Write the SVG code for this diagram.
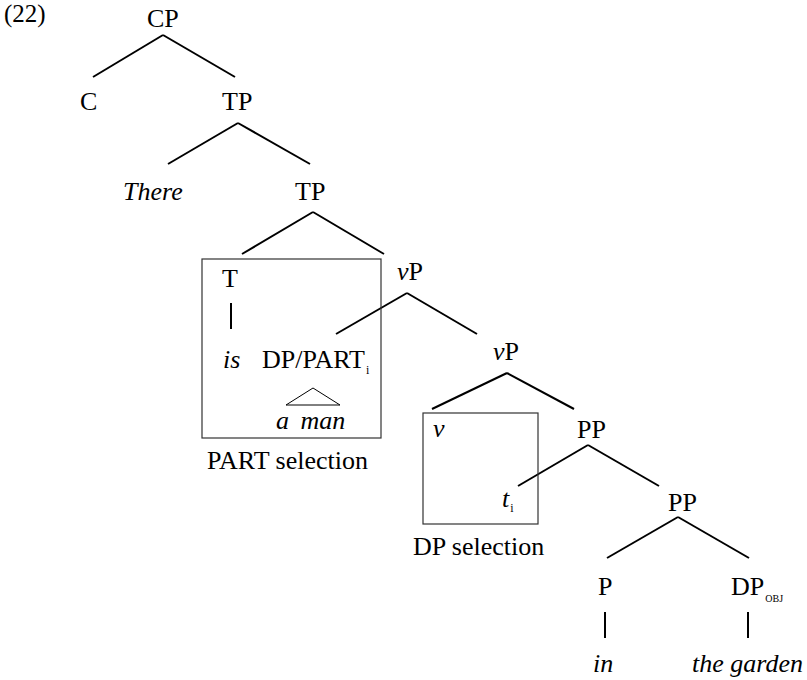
<svg xmlns="http://www.w3.org/2000/svg" width="807" height="680" viewBox="0 0 807 680">
<style>
.t{font-family:'Liberation Serif','Times New Roman',serif;font-size:26px;fill:#000}
.it{font-style:italic}
.sub{font-size:12px;font-style:normal}
.sc{font-size:10px}
.e line{stroke:#000;stroke-width:2;stroke-linecap:butt}
.box{fill:none;stroke:#333;stroke-width:1.2}
</style>
<rect width="807" height="680" fill="#fff"/>
<text class="t" x="4" y="22" style="font-size:25px">(22)</text>
<g class="e" id="connectors">
<line x1="163" y1="35" x2="93" y2="77"/>
<line x1="163" y1="35" x2="235" y2="77"/>
<line x1="238" y1="123" x2="168" y2="164"/>
<line x1="238" y1="123" x2="310" y2="164"/>
<line x1="313" y1="212" x2="242" y2="254"/>
<line x1="313" y1="212" x2="384" y2="254"/>
<line x1="231" y1="303" x2="231" y2="329"/>
<line x1="407" y1="293" x2="336" y2="334"/>
<line x1="407" y1="293" x2="477" y2="334"/>
<line x1="507" y1="373" x2="432" y2="409"/>
<line x1="507" y1="373" x2="574" y2="409"/>
<line x1="588" y1="445" x2="518" y2="486"/>
<line x1="588" y1="445" x2="659" y2="486"/>
<line x1="678" y1="517" x2="607" y2="558"/>
<line x1="678" y1="517" x2="749" y2="558"/>
<line x1="605" y1="612" x2="605" y2="638"/>
<line x1="748" y1="612" x2="748" y2="638"/>
</g>
<rect class="box" x="202" y="259" width="179" height="179"/>
<rect class="box" x="423" y="413" width="115" height="111"/>
<text class="t" x="207" y="469">PART selection</text>
<text class="t" x="413" y="555">DP selection</text>
<g id="CP"><text class="t" x="147" y="27">CP</text></g>
<g id="C"><text class="t" x="80" y="110">C</text></g>
<g id="TP1"><text class="t" x="222" y="110">TP</text></g>
<g id="There"><text class="t it" x="123" y="200">There</text></g>
<g id="TP2"><text class="t" x="295" y="200">TP</text></g>
<g id="T"><text class="t" x="222" y="287">T</text></g>
<g id="is"><text class="t it" x="223" y="368">is</text></g>
<g id="DPPART"><text class="t" x="262" y="368">DP/PART<tspan class="sub" dx="1" dy="6">i</tspan></text>
<polygon points="313,388 286,405 340,405" fill="none" stroke="#000" stroke-width="1"/>
<text class="t it" x="276" y="429" word-spacing="5">a man</text></g>
<g id="vP1"><text class="t" x="397" y="280"><tspan class="it">v</tspan>P</text></g>
<g id="vP2"><text class="t" x="493" y="360"><tspan class="it">v</tspan>P</text></g>
<g id="v"><text class="t it" x="433" y="437">v</text></g>
<g id="ti"><text class="t it" x="502" y="507">t<tspan class="sub" dx="1" dy="5">i</tspan></text></g>
<g id="PP1"><text class="t" x="577" y="438">PP</text></g>
<g id="PP2"><text class="t" x="668" y="511">PP</text></g>
<g id="P"><text class="t" x="598" y="595">P</text></g>
<g id="DPOBJ"><text class="t" x="731" y="595">DP<tspan class="sc" dx="1" dy="7">OBJ</tspan></text></g>
<g id="in"><text class="t it" x="593" y="672">in</text></g>
<g id="thegarden"><text class="t it" x="692" y="672">the garden</text></g>
</svg>
